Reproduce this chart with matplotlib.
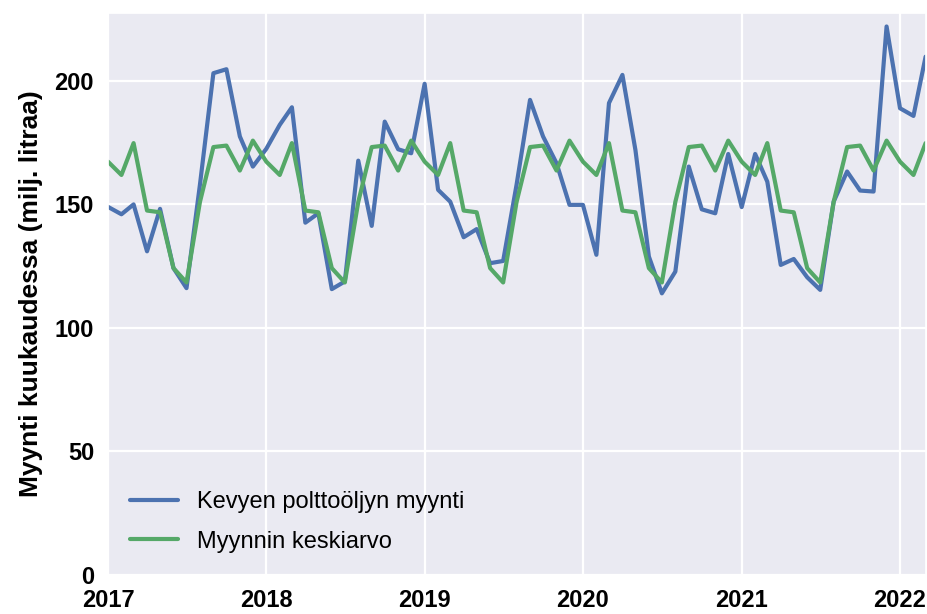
import pandas as pd
import matplotlib
matplotlib.use("Agg")
import matplotlib.pyplot as plt
import matplotlib.dates as mdates
import seaborn as sns

# monthly sales of light fuel oil, Jan 2017 - Mar 2022 (million litres)
sales = [
    149.0, 146.0, 150.0, 131.0, 148.2, 124.2, 116.1, 158.0, 203.1, 204.7, 177.5, 165.3,
    172.5, 182.2, 189.3, 142.6, 146.4, 115.7, 118.8, 167.7, 141.3, 183.5, 172.3, 170.7,
    198.8, 155.9, 151.1, 136.7, 140.0, 126.2, 127.1, 158.0, 192.3, 177.5, 166.7, 149.8,
    149.8, 129.6, 191.0, 202.4, 172.0, 128.9, 114.0, 122.8, 165.3, 148.0, 146.4, 170.4,
    148.9, 170.4, 159.2, 125.5, 127.9, 120.5, 115.4, 151.1, 163.3, 155.6, 155.2, 222.0,
    188.9, 185.8, 209.8,
]
# average sales per calendar month (Jan..Dec)
month_avg = [167.3, 161.9, 174.8, 147.5, 146.8, 124.2, 118.4, 151.0, 173.2, 173.8, 163.7, 175.8]

dates = pd.date_range("2017-01-01", periods=len(sales), freq="MS")
avg_series = [month_avg[d.month - 1] for d in dates]

sns.set_theme(style="darkgrid")
plt.rcParams["font.family"] = ["Liberation Sans", "DejaVu Sans"]
plt.rcParams["text.color"] = "black"
plt.rcParams["xtick.color"] = "black"
plt.rcParams["ytick.color"] = "black"
plt.rcParams["axes.labelcolor"] = "black"

fig = plt.figure(figsize=(9.27, 6.14), dpi=100)
ax = fig.add_axes([0.1165, 0.0635, 0.882, 0.9155])

ax.plot(dates, sales, color="#4C72B0", lw=3.0, label="Kevyen polttoöljyn myynti")
ax.plot(dates, avg_series, color="#55A868", lw=3.0, label="Myynnin keskiarvo")

ax.set_xlim(dates[0], dates[-1])
ax.set_ylim(0, 227.5)
ax.set_yticks([0, 50, 100, 150, 200])
ax.xaxis.set_major_locator(mdates.YearLocator())
ax.xaxis.set_major_formatter(mdates.DateFormatter("%Y"))
ax.tick_params(axis="both", labelsize=17, pad=4)
for lab in ax.get_xticklabels() + ax.get_yticklabels():
    lab.set_fontweight("bold")
ax.grid(color="white", lw=1.6)

ax.set_ylabel("Myynti kuukaudessa (milj. litraa)", fontsize=19, fontweight="bold", labelpad=8)

ax.legend(loc="lower left", fontsize=17, frameon=False, labelspacing=0.75,
          handlelength=2.0, handletextpad=0.8, borderaxespad=0.55)

fig.savefig("out.png", dpi=100)
